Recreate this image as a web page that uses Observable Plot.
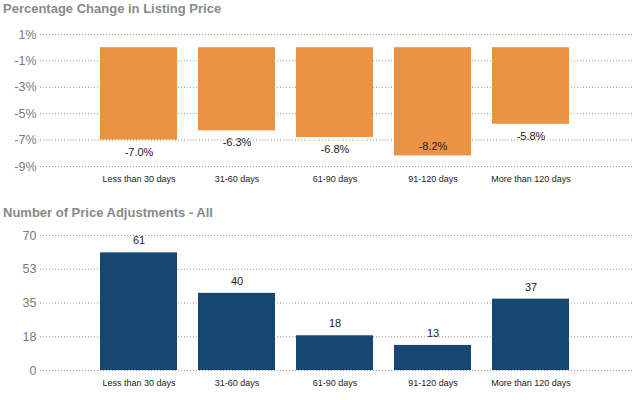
<!DOCTYPE html>
<html>
<head>
<meta charset="utf-8">
<script src="https://cdn.jsdelivr.net/npm/d3@7"></script>
<script src="https://cdn.jsdelivr.net/npm/@observablehq/plot@0.6"></script>
<style>
  html, body { margin: 0; padding: 0; background: #fff; }
  #wrap { position: relative; width: 633px; height: 400px; overflow: hidden; font-family: "Liberation Sans", Arial, sans-serif; }
  .title { position: absolute; left: 3px; font-size: 13px; font-weight: bold; color: #898989; white-space: nowrap; line-height: 16px; }
  .chart { position: absolute; left: 0; }
  svg { overflow: visible; }
</style>
</head>
<body>
<div id="wrap">
  <div class="chart" id="c1" style="top:0px"></div>
  <div class="chart" id="c2" style="top:195px"></div>
  <div class="title" id="t1" style="top:1px">Percentage Change in Listing Price</div>
  <div class="title" id="t2" style="top:205px">Number of Price Adjustments - All</div>
</div>
<script>
const categories = ["Less than 30 days", "31-60 days", "61-90 days", "91-120 days", "More than 120 days"];
const pctChange = [-7.0, -6.3, -6.8, -8.2, -5.8];
const pctTicks = [1, -1, -3, -5, -7, -9];
const adjustments = [61, 40, 18, 13, 37];
const adjTicks = [0, 17.5, 35, 52.5, 70];

const orange = "#EC9244";
const blue = "#164672";
const gridColor = "#9a9a9a";
const tickColor = "#7a7a7a";
const font = "Liberation Sans, Arial, sans-serif";

const pctData = categories.map((c, i) => ({cat: c, value: pctChange[i]}));
const adjData = categories.map((c, i) => ({cat: c, value: adjustments[i]}));

const xOpts = {domain: categories, paddingInner: 0.21, paddingOuter: 0.105, insetLeft: 49, insetRight: 53};

const chart1 = Plot.plot({
  width: 633, height: 195,
  marginLeft: 40, marginRight: 0, marginTop: 34, marginBottom: 29,
  style: {fontFamily: font, background: "transparent"},
  x: {...xOpts, axis: null},
  y: {domain: [-9, 1], axis: null},
  marks: [
    Plot.ruleY(pctTicks, {stroke: gridColor, strokeDasharray: "1,2", strokeWidth: 1}),
    Plot.axisY(pctTicks, {tickSize: 0, tickPadding: 4, tickFormat: d => d + "%", fontSize: 12.5, color: tickColor, label: null}),
    Plot.barY(pctData, {x: "cat", y: "value", fill: orange}),
    // labels sit below the bar end, except the deepest bar whose label sits just inside it
    Plot.text(pctData.filter(d => d.value >= -8), {x: "cat", y: "value", text: d => d.value.toFixed(1) + "%", dy: 12, fontSize: 11, fill: "#222", lineAnchor: "middle"}),
    Plot.text(pctData.filter(d => d.value < -8), {x: "cat", y: "value", text: d => d.value.toFixed(1) + "%", dy: -9, fontSize: 11, fill: "#222", lineAnchor: "middle"}),
    Plot.axisX({tickSize: 0, tickPadding: 9, fontSize: 9, color: "#222", label: null})
  ]
});
document.getElementById("c1").appendChild(chart1);

const chart2 = Plot.plot({
  width: 633, height: 205,
  marginLeft: 40, marginRight: 0, marginTop: 40, marginBottom: 30,
  style: {fontFamily: font, background: "transparent"},
  x: {...xOpts, axis: null},
  y: {domain: [0, 70], axis: null},
  marks: [
    Plot.ruleY(adjTicks, {stroke: gridColor, strokeDasharray: "1,2", strokeWidth: 1}),
    Plot.axisY(adjTicks, {tickSize: 0, tickPadding: 4, tickFormat: d => String(Math.round(d)), fontSize: 12.5, color: tickColor, label: null}),
    Plot.barY(adjData, {x: "cat", y: "value", fill: blue}),
    Plot.text(adjData, {x: "cat", y: "value", text: d => String(d.value), dy: -12, fontSize: 11, fill: "#222", lineAnchor: "middle"}),
    Plot.axisX({tickSize: 0, tickPadding: 9, fontSize: 9, color: "#222", label: null})
  ]
});
document.getElementById("c2").appendChild(chart2);
</script>
</body>
</html>
